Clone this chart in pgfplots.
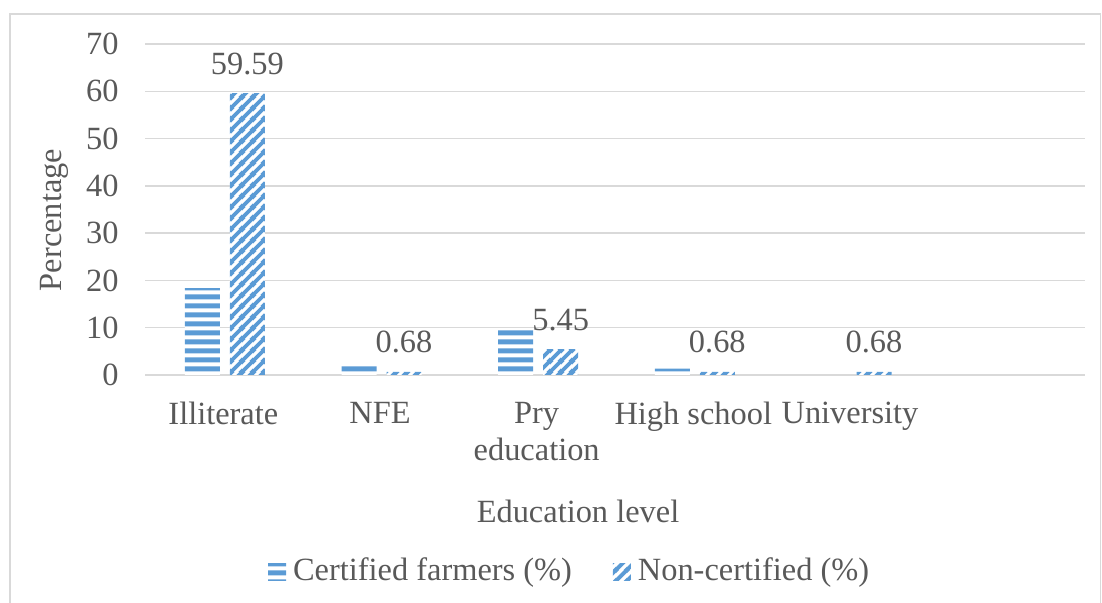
\documentclass[border=0pt]{standalone}
\usepackage{fontspec}
\setmainfont{Liberation Serif}
\usepackage{pgfplots}
\pgfplotsset{compat=1.18}
\usetikzlibrary{patterns.meta}

\definecolor{barblue}{HTML}{5B9BD5}
\definecolor{gridgray}{HTML}{D9D9D9}
\definecolor{textgray}{HTML}{595959}

\newcommand\chartfont{\fontsize{16.2}{18.5}\selectfont}

% horizontal stripes for the certified series
\tikzdeclarepattern{
  name=hbars,
  type=uncolored,
  bounding box={(0pt,0pt) and (2pt,4.25pt)},
  tile size={(2pt,4.25pt)},
  code={
    \fill (-1pt,0.8pt) rectangle (3pt,3.45pt);
  }
}
% wide upward diagonal stripes for the non-certified series
\tikzdeclarepattern{
  name=dbars,
  type=uncolored,
  bounding box={(0pt,0pt) and (5.5pt,5.5pt)},
  tile size={(5.5pt,5.5pt)},
  code={
    \fill (-1pt,-2.45pt) -- (6.5pt,5.05pt) -- (6.5pt,7.95pt) -- (-1pt,0.45pt) -- cycle;
    \fill (-1pt,3.05pt) -- (2pt,6.05pt) -- (2pt,8.95pt) -- (-1pt,5.95pt) -- cycle;
    \fill (3.5pt,-3.45pt) -- (6.5pt,-0.45pt) -- (6.5pt,2.45pt) -- (3.5pt,-0.55pt) -- cycle;
  }
}

\pgfplotsset{
  patchlegend/.style={
    legend image code/.code={\fill[##1] (0pt,-4.75pt) rectangle (9pt,3.75pt);}
  }
}

\begin{document}
\begin{tikzpicture}[font=\chartfont, text=textgray]
\useasboundingbox (0,0) rectangle (551pt,301.5pt);
% outer chart frame
\draw[gridgray, line width=0.75pt] (5pt,-5pt) rectangle (550.25pt,294.5pt);

\begin{axis}[
  at={(72.5pt,114pt)}, anchor=south west,
  scale only axis,
  width=470pt, height=165.5pt,
  ybar,
  bar width=17.5pt,
  xmin=-0.5, xmax=5.5,
  ymin=0, ymax=70,
  ytick={0,10,...,70},
  xtick={0,1,2,3,4},
  xticklabels={Illiterate, NFE, {Pry\\education}, High school, University},
  /pgf/number format/assume math mode=true,
  ymajorgrids,
  major grid style={gridgray, line width=0.75pt},
  axis x line*=bottom,
  axis y line*=left,
  x axis line style={gridgray, line width=0.75pt},
  y axis line style={draw=none},
  tick style={draw=none},
  major tick length=0pt,
  tick label style={font=\chartfont, text=textgray},
  yticklabel style={anchor=east, inner sep=0pt, xshift=-13pt},
  xticklabel style={anchor=north, align=center, inner sep=0pt, yshift=-13.5pt},
  clip=false,
  legend columns=2,
  legend style={
    at={(0.1309,-0.5917)}, anchor=west,
    draw=none, fill=none, inner sep=0pt, outer sep=0pt,
    font=\chartfont, text=textgray,
    nodes={inner sep=0pt},
    /tikz/every odd column/.append style={column sep=3.5pt},
    /tikz/every even column/.append style={column sep=20.5pt},
  },
]
\addplot[draw=none, fill=white, bar shift=-10.5pt,
  postaction={pattern=hbars, pattern color=barblue}, patchlegend]
  coordinates {(0,18.35) (1,2.3) (2,9.85) (3,1.36)};
\addlegendentry{Certified farmers (\%)}

\addplot[draw=none, fill=white, bar shift=12pt,
  postaction={pattern=dbars, pattern color=barblue}, patchlegend,
  nodes near coords={\pgfmathprintnumber[fixed, fixed zerofill, precision=2]{\pgfplotspointmeta}},
  every node near coord/.append style={anchor=base, yshift=9.5pt, font=\chartfont, text=textgray}]
  coordinates {(0,59.59) (1,0.68) (2,5.45) (3,0.68) (4,0.68)};
\addlegendentry{Non-certified (\%)}
\end{axis}

% axis titles
\node[rotate=90, anchor=base] at (30.5pt,191.5pt) {Percentage};
\node[anchor=base] at (289pt,40pt) {Education level};
\end{tikzpicture}
\end{document}
